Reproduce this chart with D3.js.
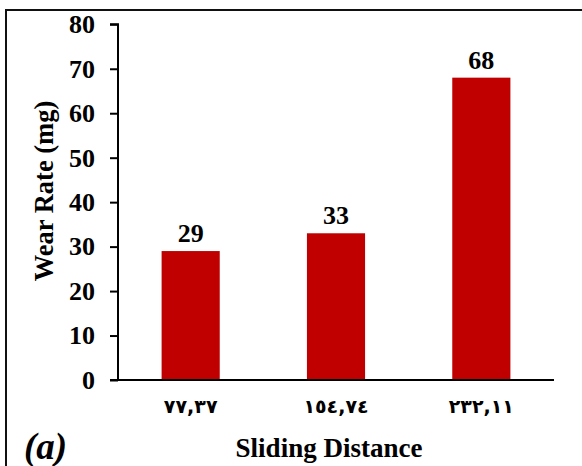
<!DOCTYPE html>
<html><head><meta charset="utf-8">
<script src="https://cdn.jsdelivr.net/npm/d3@7"></script>
<style>body{margin:0;background:#fff}svg{display:block}</style>
</head><body>
<script>
const categories = ["٧٧,٣٧", "١٥٤,٧٤", "٢٣٢,١١"];
const wearRate = [29, 33, 68];
const yTicks = [0, 10, 20, 30, 40, 50, 60, 70, 80];

const W = 582, H = 466;
const svg = d3.select("body").append("svg").attr("width", W).attr("height", H);

// frame
svg.append("path").attr("d", `M6,466 L6,10 L582,10`).attr("fill","none").attr("stroke","#111").attr("stroke-width",2);

const x = d3.scaleBand().domain(categories).range([118, 554]).paddingInner(0.6).paddingOuter(0.3);
const y = d3.scaleLinear().domain([0, 80]).range([380, 24.3]);

const serif = "'Liberation Serif','Times New Roman',serif";

// bars
svg.selectAll("rect.bar").data(wearRate).join("rect")
  .attr("class","bar")
  .attr("x",(d,i)=>x(categories[i]))
  .attr("width",x.bandwidth())
  .attr("y",d=>y(d))
  .attr("height",d=>y(0)-y(d))
  .attr("fill","#c00000");

// y axis
const yAxis = d3.axisLeft(y).tickValues(yTicks).tickSize(8).tickPadding(15);
const gy = svg.append("g").attr("transform","translate(118,0)").call(yAxis);
gy.select(".domain").attr("stroke","#000").attr("stroke-width",2).attr("d","M0,380V24.3H-8");
gy.selectAll(".tick line").attr("stroke","#000").attr("stroke-width",2);
gy.selectAll(".tick text").attr("font-family",serif).attr("font-weight","bold").attr("font-size",26).attr("fill","#000");

// x axis
const xAxis = d3.axisBottom(x).tickSize(0).tickPadding(20);
const gx = svg.append("g").attr("transform","translate(0,380)").call(xAxis);
gx.select(".domain").attr("stroke","#000").attr("stroke-width",2).attr("d","M110,0H554");
gx.selectAll(".tick text").attr("font-family","'DejaVu Sans',sans-serif").attr("font-weight","bold")
  .attr("font-size",19).attr("letter-spacing","7px").attr("fill","#000").attr("direction","ltr");

// data labels
svg.selectAll("text.val").data(wearRate).join("text")
  .attr("class","val")
  .attr("x",(d,i)=>x(categories[i])+x.bandwidth()/2)
  .attr("y",d=>y(d)-9)
  .attr("text-anchor","middle")
  .attr("font-family",serif).attr("font-weight","bold").attr("font-size",26)
  .text(d=>d);

// axis titles
svg.append("text").attr("transform","translate(53,191) rotate(-90)")
  .attr("text-anchor","middle").attr("font-family",serif).attr("font-weight","bold").attr("font-size",26.5)
  .text("Wear Rate (mg)");
svg.append("text").attr("x",329).attr("y",457)
  .attr("text-anchor","middle").attr("font-family",serif).attr("font-weight","bold").attr("font-size",27)
  .text("Sliding Distance");
svg.append("text").attr("x",24).attr("y",459)
  .attr("font-family",serif).attr("font-weight","bold").attr("font-style","italic").attr("font-size",37)
  .text("(a)");
</script>
</body></html>
